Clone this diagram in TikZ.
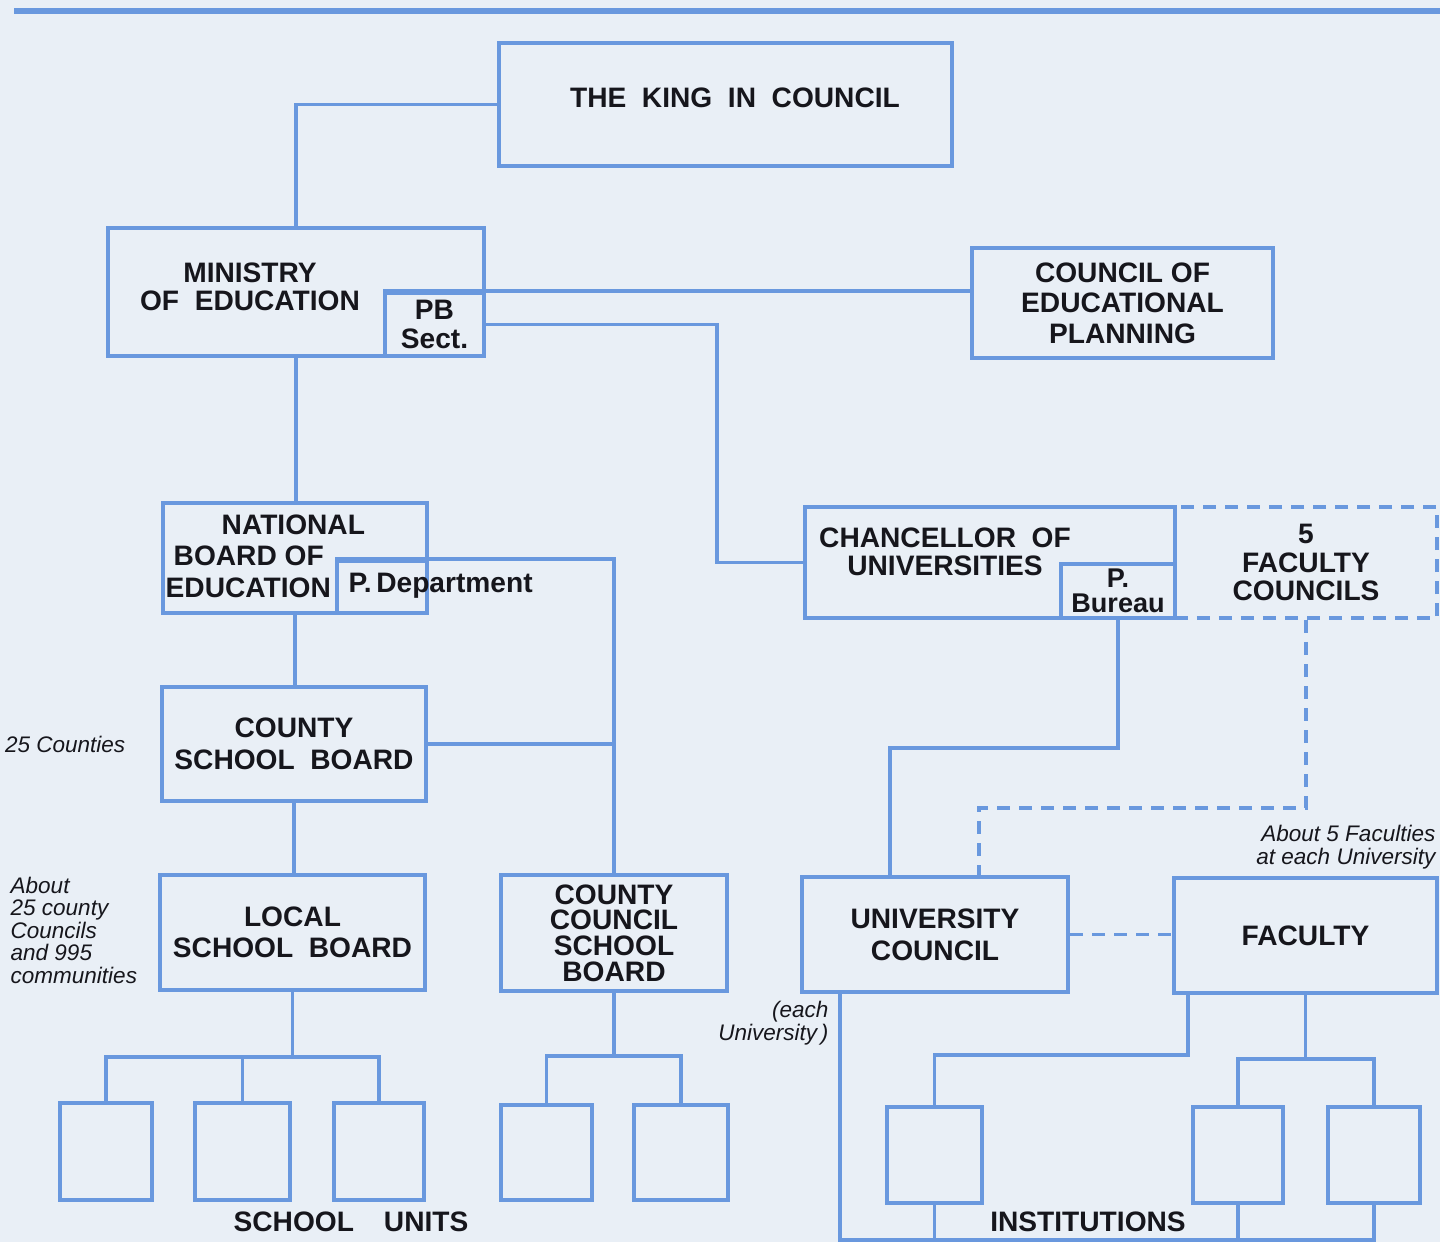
\documentclass[tikz,border=0pt]{standalone}
\usepackage{fontspec}
\setmainfont{Liberation Sans}
\usepackage{tikz}
\usetikzlibrary{positioning}
\definecolor{chartblue}{RGB}{105,152,222}
\definecolor{paper}{RGB}{233,239,246}
\definecolor{ink}{RGB}{22,22,28}
\tikzstyle{office} = [draw=chartblue, line width=1.1pt, inner sep=0pt, align=center, text=ink, font=\bfseries\fontsize{8}{8}\selectfont]
\tikzstyle{txt} = [inner sep=0pt, align=center, text=ink, font=\bfseries\fontsize{8}{8}\selectfont]
\tikzstyle{note} = [inner sep=0pt, text=ink, font=\itshape\fontsize{6.4}{6.4}\selectfont]
\tikzstyle{link} = [draw=chartblue, line width=1.1pt]
\tikzstyle{advisory} = [dash pattern=on 0.13cm off 0.09cm]

\begin{document}
\begin{tikzpicture}[x=0.01cm, y=-0.01cm]
			\useasboundingbox (0,0) rectangle (1440,1242);
			\fill[paper] (0,0) rectangle (1440,1242);
			\draw[chartblue, line width=1.8pt] (14,11) -- (1440,11);
			% government side
			\node[office, minimum width=4.53cm, minimum height=1.23cm] (king) at (725.5,104.5) {};
			\node[txt] (kingt) at (735,98) {THE~ KING~ IN~ COUNCIL};
			\node[office, minimum width=3.76cm, minimum height=1.28cm] (ministry) at (296,292) {};
			\node[txt] (ministryt) at (250,287) {MINISTRY\\OF~ EDUCATION};
			\node[office, minimum width=0.99cm, minimum height=0.63cm] (pbsect) at (434.5,324.5) {PB\\Sect.};
			\node[office, minimum width=3.01cm, minimum height=1.10cm, font=\bfseries\fontsize{8}{8.7}\selectfont] (cep) at (1122.5,303) {COUNCIL OF\\EDUCATIONAL\\PLANNING};
			\node[office, minimum width=2.64cm, minimum height=1.10cm] (natboard) at (295,558) {};
			\node[txt, align=left, anchor=west, font=\bfseries\fontsize{8}{9}\selectfont] (natboardt) at (165,556) {\hspace*{0.56cm}NATIONAL\\\hspace*{0.08cm}BOARD OF\\EDUCATION};
			\node[office, minimum width=0.90cm, minimum height=0.52cm] (pdept) at (382,587) {};
			\node[txt, anchor=west] (pdeptt) at (348,586) {P.\,Department};
			\node[office, minimum width=2.64cm, minimum height=1.14cm, font=\bfseries\fontsize{8}{9}\selectfont] (countysb) at (294,744) {COUNTY\\SCHOOL~ BOARD};
			\node[office, minimum width=2.65cm, minimum height=1.15cm, font=\bfseries\fontsize{8}{8.8}\selectfont] (localsb) at (292.5,932.5) {LOCAL\\SCHOOL~ BOARD};
			\node[office, minimum width=2.26cm, minimum height=1.16cm, font=\bfseries\fontsize{8}{7.3}\selectfont] (ccsb) at (614,933) {COUNTY\\COUNCIL\\SCHOOL\\BOARD};
			\node[office, minimum width=0.92cm, minimum height=0.97cm] (l1) at (106,1151.5) {};
			\node[office, minimum width=0.95cm, minimum height=0.97cm] (l2) at (242.5,1151.5) {};
			\node[office, minimum width=0.90cm, minimum height=0.97cm] (l3) at (379,1151.5) {};
			\node[office, minimum width=0.91cm, minimum height=0.95cm] (c1) at (546.5,1152.5) {};
			\node[office, minimum width=0.94cm, minimum height=0.95cm] (c2) at (681,1152.5) {};
			% university side
			\node[office, minimum width=3.70cm, minimum height=1.11cm] (chancellor) at (990,562.5) {};
			\node[txt] (chancellort) at (945,552) {CHANCELLOR~ OF\\UNIVERSITIES};
			\node[office, minimum width=1.14cm, minimum height=0.54cm, font=\bfseries\fontsize{7.7}{7}\selectfont] (pbureau) at (1118,591) {P.\\Bureau};
			\node[office, advisory, minimum width=2.62cm, minimum height=1.11cm] (faccouncils) at (1306,562.5) {5\\FACULTY\\COUNCILS};
			\node[office, minimum width=2.66cm, minimum height=1.15cm, font=\bfseries\fontsize{8}{9}\selectfont] (unicouncil) at (935,934.5) {UNIVERSITY\\COUNCIL};
			\node[office, minimum width=2.63cm, minimum height=1.15cm] (faculty) at (1305.5,935.5) {FACULTY};
			\node[office, minimum width=0.95cm, minimum height=0.96cm] (i1) at (934.5,1155) {};
			\node[office, minimum width=0.90cm, minimum height=0.96cm] (i2) at (1238,1155) {};
			\node[office, minimum width=0.92cm, minimum height=0.96cm] (i3) at (1374,1155) {};
			% notes
			\node[note, left = 0.34cm of countysb] (counties) {25 Counties};
			\node[note, anchor=north west, align=left] (communes) at (10,876) {About\\25 county\\Councils\\and 995\\communities};
			\node[note, anchor=east, align=right] (facnote) at (1436,847) {About 5 Faculties\\at each University};
			\node[note, anchor=east, align=right] (eachuni) at (829,1023) {(each\\University\,)};
			\node[txt] (units) at (351,1222) {SCHOOL\hspace{0.3cm}UNITS};
			\node[txt] (insts) at (1088,1222) {INSTITUTIONS};
			% connectors
			\draw[link] (king.west) -| (ministry.north);
			\draw[link] (pbsect.north west) -- (pbsect.north west -| cep.west);
			\draw[link] (pbsect.east) -- ++(231,0) |- (chancellor.west);
			\draw[link] (ministry.south) -- (ministry.south |- natboard.north);
			\draw[link] (natboard.south) -- (natboard.south |- countysb.north);
			\draw[link] (pdept.north west) -| (ccsb.north);
			\draw[link] (countysb.east) -- (countysb.east -| ccsb.north);
			\draw[link] (countysb.south) -- (countysb.south |- localsb.north);
			\draw[link] (localsb.south) -- ++(0,65) coordinate (lj);
			\draw[link] (l1.north) |- (lj) -| (l3.north);
			\draw[link] (l2.north) -- (l2.north |- lj);
			\draw[link] (ccsb.south) -- ++(0,63) coordinate (cj);
			\draw[link] (c1.north) |- (cj) -| (c2.north);
			\draw[link] (pbureau.south) -- ++(0,128) -| ([xshift=-0.45cm]unicouncil.north);
			\draw[link, advisory] (faccouncils.south) -- ++(0,188) -| ([xshift=0.44cm]unicouncil.north);
			\draw[link, advisory] (unicouncil.east) -- (unicouncil.east -| faculty.west);
			\draw[link] ([xshift=0.4cm]unicouncil.south west) |- ([yshift=-0.35cm]i3.south) -- (i3.south);
			\draw[link] (i1.south) -- ++(0,35);
			\draw[link] (i2.south) -- ++(0,35);
			\draw[link] ([xshift=0.16cm]faculty.south west) |- ([yshift=0.5cm]i1.north) -- (i1.north);
			\draw[link] (faculty.south) -- ++(0,64) coordinate (fj);
			\draw[link] (i2.north) |- (fj) -| (i3.north);
		\end{tikzpicture}
\end{document}
